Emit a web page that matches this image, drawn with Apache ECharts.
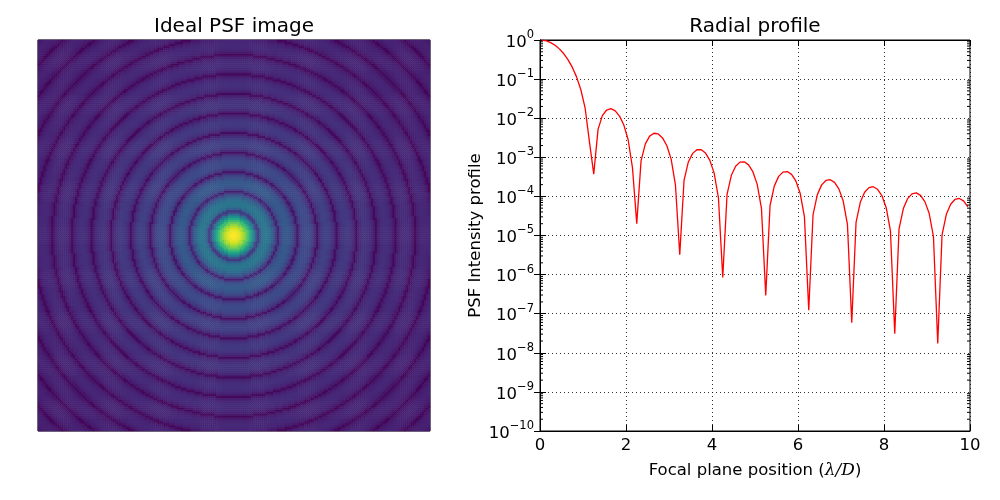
<!DOCTYPE html>
<html>
<head>
<meta charset="utf-8">
<script src="https://cdn.jsdelivr.net/npm/echarts@6/dist/echarts.min.js"></script>
<style>
  html, body { margin: 0; padding: 0; background: #fff; }
  #main { width: 1000px; height: 500px; }
</style>
</head>
<body>
<div id="main"></div>
<script>
// radial profile, sampled every 0.1 lambda/D starting at 0.05
const firstSample = 0.05;
const sampleStep = 0.1;
const profileIntensity = [
  0.994, 0.946, 0.855, 0.733, 0.593, 0.450, 0.316, 0.202, 0.114, 0.0534,
  0.0180, 0.00249, 0.000372, 0.00518, 0.0116, 0.0162, 0.0175, 0.0154, 0.0113, 0.00667,
  0.00281, 0.000547, 2.01e-5, 0.000810, 0.00220, 0.00348, 0.00412, 0.00396, 0.00313, 0.00198,
  0.000898, 0.000196, 3.21e-6, 0.000257, 0.000760, 0.00126, 0.00156, 0.00156, 0.00128, 0.000836,
  0.000394, 9.13e-5, 8.41e-7, 0.000112, 0.000347, 0.000593, 0.000752, 0.000767, 0.000641, 0.000428,
  0.000206, 4.96e-5, 2.93e-7, 5.85e-5, 0.000186, 0.000325, 0.000418, 0.000432, 0.000366, 0.000248,
  0.000121, 2.98e-5, 1.23e-7, 3.43e-5, 0.000111, 0.000197, 0.000256, 0.000267, 0.000229, 0.000156,
  7.73e-5, 1.93e-5, 5.84e-8, 2.18e-5, 7.17e-5, 0.000128, 0.000168, 0.000177, 0.000152, 0.000105,
  5.22e-5, 1.32e-5, 3.06e-8, 1.47e-5, 4.89e-5, 8.78e-5, 0.000116, 0.000123, 0.000106, 7.36e-5,
  3.69e-5, 9.43e-6, 1.73e-8, 1.04e-5, 3.48e-5, 6.29e-5, 8.34e-5, 8.86e-5, 7.71e-5, 5.36e-5
];
// rings only seen in the image corners (radius 10.05 .. 14.15)
const cornerRings = [
  2.71e-5, 6.97e-6, 1.03e-8, 7.59e-6, 2.57e-5, 4.65e-5, 6.20e-5, 6.61e-5, 5.77e-5, 4.03e-5,
  2.04e-5, 5.29e-6, 6.49e-9, 5.72e-6, 1.95e-5, 3.54e-5, 4.73e-5, 5.06e-5, 4.44e-5, 3.10e-5,
  1.58e-5, 4.11e-6, 4.24e-9, 4.42e-6, 1.51e-5, 2.76e-5, 3.69e-5, 3.96e-5, 3.48e-5, 2.44e-5,
  1.25e-5, 3.26e-6, 2.87e-9, 3.48e-6, 1.20e-5, 2.19e-5, 2.94e-5, 3.16e-5, 2.78e-5, 1.96e-5,
  9.99e-6, 2.63e-6
];
const imageSize = 200;     // pixels per side, +-10 lambda/D
const displayGamma = 0.23; // colour stretch of the image
const xTicks = [0, 2, 4, 6, 8, 10];
const yDecades = [-10, -9, -8, -7, -6, -5, -4, -3, -2, -1, 0];

const viridis = ["#440154", "#482475", "#414487", "#355f8d", "#2a788e", "#21918c",
                 "#22a884", "#44bf70", "#7ad151", "#bddf26", "#fde725"];
const font = "DejaVu Sans";

// profile line
const lineData = profileIntensity.map((v, i) => [firstSample + i * sampleStep, v]);

// image: each pixel takes the profile sample at its radius
const radial = profileIntensity.concat(cornerRings);
const heatData = [];
const idx = [];
for (let i = 0; i < imageSize; i++) {
  idx.push(i);
  for (let j = 0; j < imageSize; j++) {
    const dx = (i - (imageSize - 1) / 2) * sampleStep;
    const dy = (j - (imageSize - 1) / 2) * sampleStep;
    const r = Math.sqrt(dx * dx + dy * dy);
    let k = Math.round((r - firstSample) / sampleStep);
    k = Math.max(0, Math.min(radial.length - 1, k));
    heatData.push([i, j, Math.pow(radial[k], displayGamma)]);
  }
}

// minor ticks of the log axis (2..9 in each decade)
const minorTicks = [];
yDecades.slice(0, -1).forEach((d) => {
  for (let m = 2; m <= 9; m++) minorTicks.push([xTicks[0], m * Math.pow(10, d)]);
});

// log scale picks a 10-decade step when the span is exactly 10, nudge min a hair
const yMin = Math.pow(10, yDecades[0]) * 1.00001;
const yMax = Math.pow(10, yDecades[yDecades.length - 1]);

const chart = echarts.init(document.getElementById("main"));
const tickStyle = { show: true, inside: true, length: 6, lineStyle: { color: "#000", width: 1 } };
const expLabel = (v) => {
  const e = Math.round(Math.log10(v));
  return "{b|10}{s|" + String(e).replace("-", "\u2212") + "}";
};
const richExp = {
  b: { fontSize: 16.5, fontFamily: font, color: "#000", verticalAlign: "bottom", lineHeight: 22 },
  s: { fontSize: 11.5, fontFamily: font, color: "#000", verticalAlign: "top", lineHeight: 12 },
};
const minorTickLine = (x1, x2, y) => ({
  type: "line", shape: { x1: x1, y1: y, x2: x2, y2: y }, style: { stroke: "#000", lineWidth: 1 },
});

chart.setOption({
  animation: false,
  backgroundColor: "#fff",
  textStyle: { fontFamily: font },
  graphic: [
    { type: "text", x: 234, y: 27, style: { text: "Ideal PSF image", font: "20px 'DejaVu Sans'", fill: "#000", align: "center", verticalAlign: "middle" } },
    { type: "text", x: 755, y: 27, style: { text: "Radial profile", font: "20px 'DejaVu Sans'", fill: "#000", align: "center", verticalAlign: "middle" } },
  ],
  grid: [
    { left: 38, top: 40, width: 392, height: 391, show: true, borderColor: "#000", borderWidth: 1, backgroundColor: "transparent" },
    { left: 540, top: 40, width: 430, height: 391, show: true, borderColor: "#000", borderWidth: 1, backgroundColor: "transparent" },
  ],
  visualMap: {
    type: "continuous", show: false, min: 0, max: 1, dimension: 2, seriesIndex: 0,
    inRange: { color: viridis },
  },
  xAxis: [
    { gridIndex: 0, type: "category", data: idx, show: false },
    {
      gridIndex: 1, type: "value", min: 0, max: 10, interval: 2,
      axisLine: { show: true, lineStyle: { color: "#000", width: 1 } },
      axisTick: tickStyle,
      axisLabel: { fontSize: 16.5, color: "#000", margin: 6, fontFamily: font },
      splitLine: { show: true, lineStyle: { color: "#000", width: 0.8, type: [1, 3] } },
      name: "{n|Focal plane position (}{m|\u03bb/D}{n|)}",
      nameLocation: "middle", nameGap: 31,
      nameTextStyle: {
        rich: {
          n: { fontSize: 16.5, fontFamily: font, color: "#000" },
          m: { fontSize: 17, fontFamily: "DejaVu Serif", fontStyle: "italic", color: "#000" },
        },
      },
    },
    {
      gridIndex: 1, type: "value", position: "top", min: 0, max: 10, interval: 2,
      axisLine: { show: true, lineStyle: { color: "#000" } },
      axisTick: tickStyle, axisLabel: { show: false }, splitLine: { show: false },
    },
  ],
  yAxis: [
    { gridIndex: 0, type: "category", data: idx, show: false },
    {
      gridIndex: 1, type: "log", logBase: 10, min: yMin, max: yMax, splitNumber: 10,
      axisLine: { show: true, lineStyle: { color: "#000", width: 1 } },
      axisTick: tickStyle,
      axisLabel: { formatter: expLabel, rich: richExp, margin: 6 },
      splitLine: { show: true, lineStyle: { color: "#000", width: 0.8, type: [1, 3] } },
      name: "PSF Intensity profile", nameLocation: "middle", nameGap: 56,
      nameTextStyle: { fontSize: 16.5, color: "#000", fontFamily: font },
    },
    {
      gridIndex: 1, type: "log", logBase: 10, min: yMin, max: yMax, splitNumber: 10, position: "right",
      axisLine: { show: true, lineStyle: { color: "#000" } },
      axisTick: tickStyle, axisLabel: { show: false }, splitLine: { show: false },
    },
  ],
  series: [
    {
      type: "heatmap", xAxisIndex: 0, yAxisIndex: 0, data: heatData,
      progressive: 0, silent: true, itemStyle: { borderWidth: 0 },
    },
    {
      type: "line", xAxisIndex: 1, yAxisIndex: 1, data: lineData,
      showSymbol: false, symbol: "none", lineStyle: { color: "#ff0000", width: 1.3 },
      z: 5,
    },
    {
      type: "custom", xAxisIndex: 1, yAxisIndex: 1, data: minorTicks, clip: false, silent: true, z: 6,
      renderItem: (params, api) => {
        const v = api.value(1);
        const y = api.coord([xTicks[0], v])[1];
        const left = api.coord([xTicks[0], v])[0];
        const right = api.coord([xTicks[xTicks.length - 1], v])[0];
        return {
          type: "group",
          children: [minorTickLine(left, left + 3, y), minorTickLine(right - 3, right, y)],
        };
      },
    },
  ],
});
window.addEventListener("resize", () => chart.resize());
</script>
</body>
</html>
